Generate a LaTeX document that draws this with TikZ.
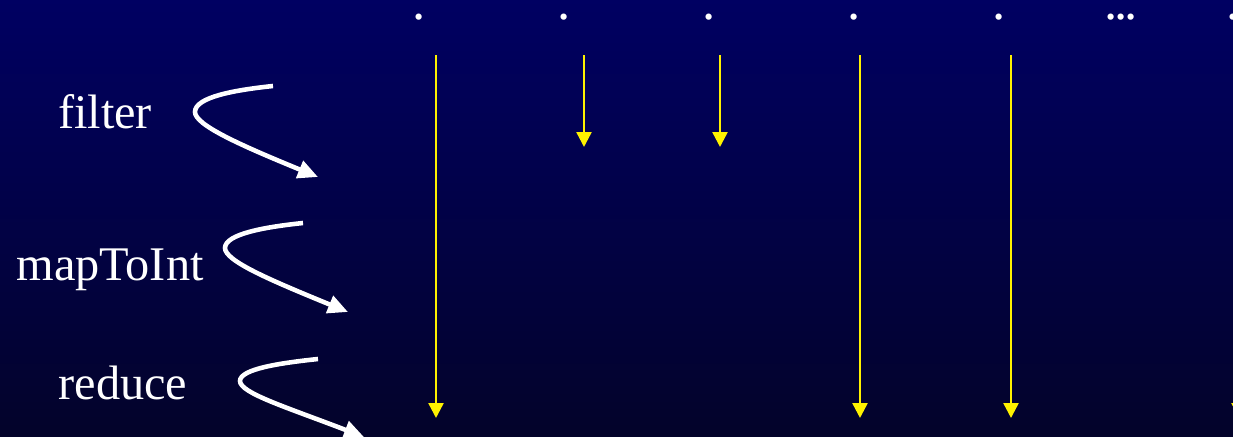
\documentclass[tikz,border=0pt]{standalone}
\usepackage{fontspec}
\setmainfont{Liberation Serif}
\usetikzlibrary{arrows.meta, calc}

\begin{document}
\begin{tikzpicture}[
    x=0.02cm, y=-0.02cm,
    every node/.style={text=white, inner sep=0pt, anchor=base},
    oplabel/.style={font=\fontsize{27.5}{31}\selectfont},
    elem/.style={font=\fontsize{30}{32}\selectfont},
    flow/.style={draw=yellow, line width=1.4pt,
        -{Triangle[length=0.3cm, width=0.3cm]}},
    stage/.style={draw=white, line width=2.6pt,
        -{Triangle[length=0.4cm, width=0.36cm]}},
]

% background
\clip (0,0) rectangle (1233,436);
\shade[top color={rgb,255:red,0;green,0;blue,98},
       bottom color={rgb,255:red,3;green,3;blue,42}]
    (0,0) rectangle (1233,436);

% stream elements
\node[elem] (e1) at (419,19) {.};
\node[elem] (e2) at (564,19) {.};
\node[elem] (e3) at (709,19) {.};
\node[elem] (e4) at (854,19) {.};
\node[elem] (e5) at (999,19) {.};
\node[elem] (more) at (1121,19) {.\kern-1.6pt.\kern-1.6pt.};
\node[elem] (e6) at (1233,19) {.};

% operations
\node[oplabel] (filter) at (105,128) {filter};
\node[oplabel] (map) at (110,280) {mapToInt};
\node[oplabel] (reduce) at (123,399) {reduce};

% stage arrows
\coordinate (fs) at (273,86);  \coordinate (fa) at (195,112); \coordinate (fe) at (318,177);
\coordinate (ms) at (303,223); \coordinate (ma) at (225,248); \coordinate (me) at (348,312);
\coordinate (rs) at (318,359); \coordinate (ra) at (240,381); \coordinate (re) at (364,437);
\draw[stage] (fs) .. controls ($(fs)+(-38,4)$) and ($(fa)+(0,-15)$) .. (fa)
    .. controls ($(fa)+(0,13)$) and ($(fe)+(-78,-32)$) .. (fe);
\draw[stage] (ms) .. controls ($(ms)+(-38,4)$) and ($(ma)+(0,-14)$) .. (ma)
    .. controls ($(ma)+(0,13)$) and ($(me)+(-78,-32)$) .. (me);
\draw[stage] (rs) .. controls ($(rs)+(-38,4)$) and ($(ra)+(0,-12)$) .. (ra)
    .. controls ($(ra)+(0,12)$) and ($(re)+(-78,-30)$) .. (re);

% element flow
\coordinate (a1) at (436,55);  \coordinate (b1) at (436,418);
\coordinate (a2) at (584,55);  \coordinate (b2) at (584,147);
\coordinate (a3) at (720,55);  \coordinate (b3) at (720,147);
\coordinate (a4) at (860,55);  \coordinate (b4) at (860,418);
\coordinate (a5) at (1011,55); \coordinate (b5) at (1011,418);
\coordinate (a6) at (1239,55); \coordinate (b6) at (1239,418);
\draw[flow] (a1) -- (b1);
\draw[flow] (a2) -- (b2);
\draw[flow] (a3) -- (b3);
\draw[flow] (a4) -- (b4);
\draw[flow] (a5) -- (b5);
\draw[flow] (a6) -- (b6);

\end{tikzpicture}
\end{document}
